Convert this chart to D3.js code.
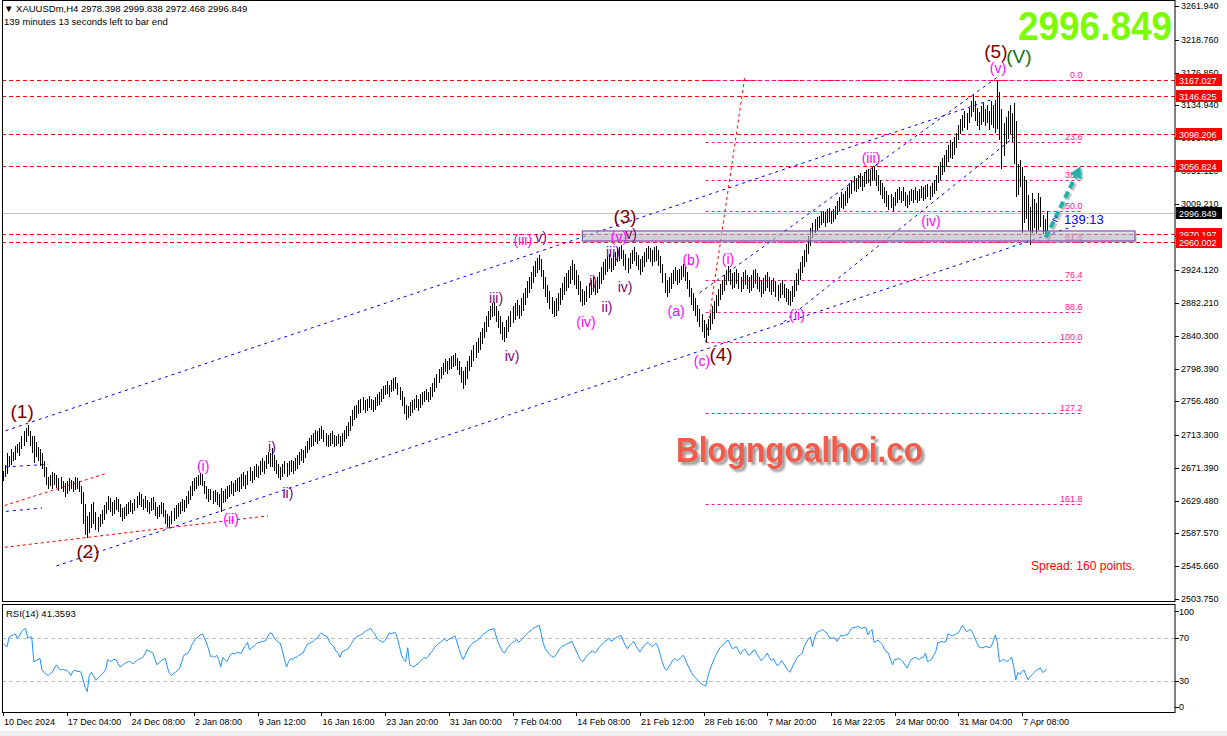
<!DOCTYPE html>
<html>
<head>
<meta charset="utf-8">
<script src="https://cdnjs.cloudflare.com/ajax/libs/d3/7.8.5/d3.min.js"></script>
<style>
  body { margin: 0; background: #fff; }
  svg { display: block; font-family: "Liberation Sans", Arial, sans-serif; }
</style>
</head>
<body>
<svg id="chart" width="1227" height="736"></svg>
<script>
// XAUUSDm H4 bars, 10 Dec 2024 .. 9 Apr 2025 (bar index 0..508)
const lows = [
  2655,2660,2664,2672,2675,2680,2682,2690,2686,2695,
  2700,2705,2712,2700,2690,2678,2685,2680,2674,2670,
  2660,2650,2645,2648,2645,2650,2646,2642,2645,2640,
  2634,2638,2642,2645,2640,2643,2645,2640,2625,2600,
  2586,2582,2588,2595,2600,2592,2590,2596,2600,2605,
  2612,2618,2615,2610,2612,2618,2615,2608,2604,2606,
  2610,2612,2615,2612,2616,2620,2624,2622,2618,2620,
  2615,2612,2616,2618,2610,2606,2608,2612,2608,2600,
  2596,2594,2600,2604,2606,2608,2612,2616,2615,2620,
  2625,2630,2636,2642,2645,2648,2650,2648,2638,2632,
  2628,2630,2625,2628,2624,2622,2615,2626,2628,2632,
  2634,2638,2635,2640,2642,2640,2645,2648,2644,2650,
  2655,2652,2656,2660,2658,2662,2666,2664,2670,2676,
  2672,2672,2668,2664,2658,2656,2660,2664,2660,2662,
  2666,2664,2668,2670,2675,2680,2678,2684,2690,2694,
  2698,2700,2705,2702,2706,2708,2704,2700,2698,2700,
  2702,2698,2700,2702,2698,2700,2705,2708,2712,2718,
  2725,2732,2735,2740,2742,2745,2742,2744,2748,2745,
  2743,2746,2750,2752,2756,2760,2764,2766,2762,2768,
  2770,2772,2765,2758,2750,2740,2732,2735,2738,2742,
  2745,2748,2744,2748,2752,2756,2758,2755,2758,2762,
  2768,2774,2780,2785,2790,2794,2792,2796,2798,2800,
  2802,2796,2790,2780,2772,2778,2785,2795,2800,2808,
  2812,2818,2822,2830,2838,2845,2852,2860,2864,2866,
  2858,2850,2842,2835,2832,2838,2845,2852,2856,2860,
  2866,2862,2866,2872,2880,2888,2895,2900,2908,2915,
  2920,2924,2915,2900,2890,2882,2875,2868,2864,2866,
  2872,2880,2886,2892,2898,2902,2906,2912,2905,2900,
  2892,2884,2878,2880,2884,2888,2892,2896,2892,2895,
  2900,2906,2912,2918,2922,2926,2922,2925,2930,2934,
  2936,2938,2930,2925,2920,2926,2932,2936,2930,2924,
  2918,2922,2928,2934,2938,2935,2930,2934,2936,2930,
  2920,2908,2895,2890,2895,2900,2906,2910,2905,2908,
  2912,2915,2910,2900,2890,2880,2872,2865,2858,2852,
  2845,2838,2832,2840,2848,2855,2862,2870,2878,2886,
  2892,2898,2905,2910,2905,2900,2902,2906,2900,2896,
  2900,2905,2900,2895,2898,2902,2906,2900,2896,2890,
  2894,2898,2902,2896,2892,2896,2890,2885,2888,2892,
  2888,2884,2880,2879,2884,2890,2898,2905,2912,2920,
  2928,2935,2945,2955,2965,2972,2975,2978,2982,2985,
  2980,2984,2986,2983,2986,2990,2995,3000,3004,3002,
  3006,3010,3016,3022,3026,3024,3028,3030,3026,3030,
  3034,3036,3032,3038,3040,3032,3026,3020,3015,3010,
  3005,3001,3004,3000,3006,3010,3014,3010,3012,3006,
  3004,3008,3012,3010,3014,3010,3012,3016,3012,3015,
  3018,3014,3018,3022,3026,3035,3040,3046,3050,3056,
  3062,3068,3066,3072,3080,3090,3098,3102,3106,3104,
  3112,3120,3126,3115,3108,3103,3110,3114,3108,3112,
  3104,3110,3106,3100,3105,3090,3054,3070,3085,3092,
  3098,3088,3060,3018,3020,3030,2972,2985,2990,2975,
  2956,2972,2978,2970,2975,2980,2970,2968,2972.47
];
const highs = [
  2668,2675,2690,2687,2695,2692,2700,2702,2705,2712,
  2718,2722,2726,2718,2712,2712,2705,2698,2695,2690,
  2680,2672,2660,2662,2666,2665,2662,2658,2660,2655,
  2652,2655,2658,2656,2655,2660,2658,2655,2648,2640,
  2625,2610,2615,2625,2628,2615,2608,2612,2618,2624,
  2628,2636,2633,2628,2630,2634,2632,2625,2620,2622,
  2625,2628,2630,2626,2632,2635,2640,2638,2632,2636,
  2630,2628,2633,2634,2628,2622,2624,2628,2626,2618,
  2612,2610,2616,2620,2624,2626,2628,2632,2630,2636,
  2642,2648,2654,2658,2660,2662,2665,2664,2655,2648,
  2644,2645,2642,2643,2640,2638,2646,2642,2645,2648,
  2650,2654,2652,2656,2658,2660,2664,2666,2662,2668,
  2672,2668,2674,2676,2674,2680,2684,2680,2688,2692,
  2690,2697,2688,2682,2676,2672,2676,2680,2678,2680,
  2682,2680,2684,2688,2692,2695,2694,2700,2706,2710,
  2714,2716,2720,2718,2722,2725,2720,2716,2714,2716,
  2718,2714,2712,2715,2712,2716,2720,2725,2730,2738,
  2745,2750,2752,2758,2760,2762,2758,2760,2763,2760,
  2758,2762,2766,2768,2772,2776,2778,2782,2778,2784,
  2786,2787,2780,2775,2770,2762,2752,2750,2755,2758,
  2760,2764,2760,2766,2768,2770,2772,2768,2775,2780,
  2786,2792,2798,2800,2806,2810,2808,2812,2814,2816,
  2818,2812,2808,2800,2795,2800,2808,2815,2822,2828,
  2832,2838,2845,2850,2858,2865,2872,2878,2882,2884,
  2878,2872,2865,2858,2852,2860,2866,2872,2878,2882,
  2886,2880,2888,2895,2902,2910,2915,2922,2930,2936,
  2940,2944,2938,2925,2915,2905,2898,2890,2885,2888,
  2895,2902,2908,2915,2920,2925,2930,2937,2932,2925,
  2918,2910,2900,2898,2904,2908,2912,2916,2910,2915,
  2922,2928,2934,2938,2942,2945,2940,2945,2948,2952,
  2954,2956,2950,2945,2940,2946,2950,2954,2948,2944,
  2938,2942,2948,2952,2955,2952,2950,2954,2955,2950,
  2942,2932,2920,2912,2915,2920,2924,2928,2925,2926,
  2930,2932,2928,2922,2912,2902,2895,2888,2880,2875,
  2868,2860,2855,2862,2870,2878,2885,2892,2900,2906,
  2912,2918,2924,2930,2926,2920,2922,2926,2920,2916,
  2922,2924,2918,2915,2918,2924,2926,2920,2916,2912,
  2914,2918,2922,2916,2912,2914,2910,2905,2908,2912,
  2906,2902,2900,2898,2904,2912,2920,2926,2934,2942,
  2950,2958,2968,2978,2985,2990,2992,2994,2998,3000,
  2998,3002,3004,3000,3002,3006,3012,3018,3024,3022,
  3026,3030,3036,3040,3044,3042,3046,3048,3044,3050,
  3052,3054,3052,3056,3058,3052,3046,3040,3035,3030,
  3025,3020,3022,3018,3024,3028,3030,3026,3030,3024,
  3020,3026,3028,3027,3030,3026,3028,3032,3030,3033,
  3034,3032,3036,3040,3046,3058,3062,3068,3072,3078,
  3084,3090,3088,3094,3100,3110,3118,3122,3128,3125,
  3132,3140,3148,3140,3132,3126,3134,3138,3130,3136,
  3128,3140,3136,3142,3167,3152,3130,3112,3120,3128,
  3136,3125,3138,3115,3060,3065,3056,3045,3040,3020,
  3005,3023,3015,3010,3023,3018,2995,2990,2999.84
];
const rsi = [
  65,63,62,71,72,73,74,70,72,76, 78,79,70,71,71,48,49,50,51,40,
  38,36,35,37,38,42,45,42,40,41, 40,40,38,35,39,40,39,39,38,31,
  24,20,35,38,35,31,32,34,36,38, 41,50,48,49,50,50,46,43,44,46,
  47,48,48,46,47,49,50,51,52,55, 59,58,57,56,50,45,47,49,50,51,
  43,37,35,37,38,40,42,48,54,55, 56,59,64,67,70,71,73,74,70,66,
  60,53,53,52,54,50,43,52,50,48, 52,55,56,55,57,56,56,60,63,66,
  59,61,62,64,66,66,67,67,68,72, 75,74,70,68,66,65,58,50,43,48,
  51,50,52,52,54,55,56,60,64,65, 66,67,69,70,73,75,73,72,71,66,
  64,62,58,56,52,57,58,59,60,63, 66,69,71,72,73,74,76,77,78,79,
  76,74,70,68,67,66,68,71,75,74, 75,75,70,62,54,50,48,61,45,44,
  43,45,46,48,50,52,51,53,56,58, 61,63,65,66,68,69,67,69,70,71,
  72,66,60,54,50,54,58,62,64,66, 67,68,70,72,74,75,77,78,78,79,
  72,66,62,58,56,59,62,64,66,67, 69,66,68,70,72,74,76,77,79,80,
  81,82,74,65,60,57,55,53,52,54, 57,60,62,63,64,65,66,67,62,58,
  54,50,48,50,53,55,57,58,56,58, 61,63,65,67,68,70,67,68,70,71,
  72,72,67,63,60,63,65,67,63,60, 57,60,63,65,66,64,62,64,65,61,
  54,47,42,40,43,46,49,51,49,50, 52,54,51,46,42,38,35,33,31,29,
  27,26,25,33,40,45,50,54,58,61, 63,65,67,68,64,60,61,62,58,55,
  58,60,57,54,55,58,59,55,52,49, 51,53,56,52,49,51,47,44,46,49,
  46,43,40,38,42,46,50,53,54,56, 62,66,69,71,62,70,75,76,77,78,
  76,75,71,70,70,70,67,70,73,72, 73,73,76,79,80,80,81,80,79,80,
  80,73,76,78,66,67,68,66,64,60, 57,56,50,45,50,50,51,50,48,45,
  42,46,50,51,52,51,50,52,52,56, 48,49,50,54,57,66,66,67,66,67,
  74,73,72,73,74,75,78,82,79,76, 77,78,75,70,66,62,61,61,62,62,
  61,62,67,73,66,48,49,50,49,48, 50,52,43,31,38,36,39,40,35,31,
  34,36,38,40,41,42,38,39,41.36
];

const timeBars = [0, 31, 62, 93, 124, 155, 186, 217, 248, 279, 310, 341, 372, 403, 434, 465, 496];
const timeLabels = ["10 Dec 2024", "17 Dec 04:00", "24 Dec 08:00", "2 Jan 08:00", "9 Jan 12:00",
  "16 Jan 16:00", "23 Jan 20:00", "31 Jan 00:00", "7 Feb 04:00", "14 Feb 08:00", "21 Feb 12:00",
  "28 Feb 16:00", "7 Mar 20:00", "16 Mar 22:05", "24 Mar 00:00", "31 Mar 04:00", "7 Apr 08:00"];
const priceTicks = ["3261.940", "3218.760", "3176.850", "3134.940", "3093.030", "3051.120", "3009.210",
  "2967.300", "2924.120", "2882.210", "2840.300", "2798.390", "2756.480", "2713.300", "2671.390",
  "2629.480", "2587.570", "2545.660", "2503.750"];
const rsiTicks = [100, 70, 30, 0];
const rsiLevels = [70, 30];

const levelPrices = [3167.027, 3146.625, 3098.206, 3056.824, 2970.197, 2960.002];
const fibLevels = [0, 23.6, 38.2, 50, 61.8, 76.4, 88.6, 100, 127.2, 161.8];
const fibHigh = 3167.027, fibLow = 2832.3, fibFrom = 342, fibTo = 526;

const lastPrice = 2996.849;
const ohlcLast = ["2978.398", "2999.838", "2972.468", "2996.849"];
const rsiLast = "41.3593";

// trendlines: [bar1, price1, bar2, price2]
const blueLines = [[-2, 2716, 481, 3142], [26, 2546, 522, 2981], [339, 2895, 484, 3171],
  [380, 2858, 493, 3096], [-2, 2672, 22, 2676], [-2, 2615, 19, 2620]];
const redLines = [[342, 2832, 361, 3170], [-2, 2621, 51, 2665], [-2, 2569, 129, 2610]];
const zone = [282, 2974.3, 551, 2961.5];
const arrow = [507.5, 2966, 524.5, 3057];

// wave labels: [text, bar, price]
const majorLabels = [["(1)", 9.3, 2744], ["(2)", 41.4, 2565], ["(3)", 302.8, 2993],
  ["(4)", 349.5, 2816], ["(5)", 483.3, 3204]];
const greenLabels = [["(V)", 494.5, 3197]];
const minorLabels = [["(i)", 97.4, 2674], ["(ii)", 111, 2606], ["(iii)", 253, 2963], ["(iv)", 283.8, 2858],
  ["(v)", 299.8, 2967], ["(a)", 327.6, 2872], ["(b)", 334.9, 2937], ["(c)", 340.2, 2808],
  ["(i)", 352.9, 2938], ["(ii)", 386.5, 2867], ["(iii)", 422.5, 3068], ["(iv)", 451.7, 2987],
  ["(v)", 484.3, 3183]];
const subLabels = [["i)", 130.9, 2698], ["ii)", 138.7, 2639], ["iii)", 240, 2889], ["iv)", 247.8, 2814],
  ["v)", 261.9, 2967], ["i)", 287.2, 2910], ["ii)", 294, 2877], ["iii)", 296.9, 2947],
  ["iv)", 302.8, 2903], ["v)", 305.7, 2970]];

const svg = d3.select("#chart");
const axisX = 1175;

const x = d3.scaleLinear().domain([0, 496]).range([3, 1022]);
const y = d3.scaleLinear().domain([2503.75, 3261.94]).range([599, 6]);
const ry = d3.scaleLinear().domain([0, 100]).range([713, 606]);

svg.append("rect").attr("width", 1227).attr("height", 736).attr("fill", "#fff");
svg.append("rect").attr("x", 0).attr("y", 731).attr("width", 1227).attr("height", 5).attr("fill", "#f0f0f0");

const defs = svg.append("defs");
defs.append("clipPath").attr("id", "clipMain")
  .append("rect").attr("x", 2).attr("y", 0).attr("width", axisX - 2).attr("height", 601);
defs.append("clipPath").attr("id", "clipRsi")
  .append("rect").attr("x", 2).attr("y", 604).attr("width", axisX - 2).attr("height", 108);
defs.append("filter").attr("id", "shadow").attr("x", "-5%").attr("y", "-20%")
  .attr("width", "115%").attr("height", "150%")
  .append("feDropShadow").attr("dx", 3).attr("dy", 3).attr("stdDeviation", 1.2)
  .attr("flood-color", "#777").attr("flood-opacity", 0.7);

const main = svg.append("g").attr("clip-path", "url(#clipMain)");

// current price line
main.append("line")
  .attr("x1", 2).attr("x2", axisX)
  .attr("y1", Math.round(y(lastPrice)) + 0.5).attr("y2", Math.round(y(lastPrice)) + 0.5)
  .attr("stroke", "#c0c0c0");

// horizontal levels
main.append("g").selectAll("line").data(levelPrices).join("line")
  .attr("x1", 2).attr("x2", axisX)
  .attr("y1", d => Math.round(y(d)) + 0.5).attr("y2", d => Math.round(y(d)) + 0.5)
  .attr("stroke", "#ff0000").attr("stroke-dasharray", "4,3");

// fibonacci
function fibPrice(l) { return fibHigh - l / 100 * (fibHigh - fibLow); }
const fib = main.append("g");
fib.selectAll("line").data(fibLevels).join("line")
  .attr("x1", x(fibFrom)).attr("x2", x(fibTo))
  .attr("y1", d => Math.round(y(fibPrice(d))) + 0.5).attr("y2", d => Math.round(y(fibPrice(d))) + 0.5)
  .attr("stroke", "#ff1493").attr("stroke-dasharray", "3,3");
fib.selectAll("text").data(fibLevels).join("text")
  .attr("x", x(fibTo) - 1).attr("y", d => y(fibPrice(d)) - 2)
  .attr("text-anchor", "end").attr("font-size", 9).attr("fill", "#ff1493")
  .text(d => d.toFixed(1));

function drawLines(data, color, dash) {
  main.append("g").selectAll("line").data(data).join("line")
    .attr("x1", d => x(d[0])).attr("y1", d => y(d[1]))
    .attr("x2", d => x(d[2])).attr("y2", d => y(d[3]))
    .attr("stroke", color).attr("stroke-dasharray", dash);
}
drawLines(blueLines, "#0000ff", "3,4");
drawLines(redLines, "#ff0000", "3,3");

// bars
main.append("g").attr("shape-rendering", "crispEdges")
  .selectAll("line").data(highs).join("line")
  .attr("x1", (d, i) => Math.round(x(i)) + 0.5).attr("x2", (d, i) => Math.round(x(i)) + 0.5)
  .attr("y1", d => y(d)).attr("y2", (d, i) => y(lows[i]))
  .attr("stroke", "#000");

// support zone
main.append("rect")
  .attr("x", x(zone[0]) + 2).attr("y", y(zone[1]) + 2)
  .attr("width", x(zone[2]) - x(zone[0])).attr("height", y(zone[3]) - y(zone[1]))
  .attr("fill", "#999").attr("opacity", 0.35);
main.append("rect")
  .attr("x", x(zone[0])).attr("y", y(zone[1]))
  .attr("width", x(zone[2]) - x(zone[0])).attr("height", y(zone[3]) - y(zone[1]))
  .attr("fill", "rgba(200,195,210,0.45)").attr("stroke", "#7030a0");

// wave labels
function drawLabels(data, color, size) {
  main.append("g").selectAll("text").data(data).join("text")
    .attr("x", d => x(d[1])).attr("y", d => y(d[2]))
    .attr("text-anchor", "middle").attr("dominant-baseline", "central")
    .attr("font-size", size).attr("fill", color)
    .text(d => d[0]);
}
drawLabels(subLabels, "#800080", 14);
drawLabels(minorLabels, "#ff00ff", 14);
drawLabels(majorLabels, "#800000", 19);
drawLabels(greenLabels, "#107010", 19);

// arrow
const ax1 = x(arrow[0]), ay1 = y(arrow[1]), ax2 = x(arrow[2]), ay2 = y(arrow[3]);
const ang = Math.atan2(ay2 - ay1, ax2 - ax1);
const bx = ax2 - 11 * Math.cos(ang), by = ay2 - 11 * Math.sin(ang);
function head(dx, dy) {
  const px = -Math.sin(ang), py = Math.cos(ang);
  return [[ax2 + dx, ay2 + dy], [bx + 6 * px + dx, by + 6 * py + dy], [bx - 6 * px + dx, by - 6 * py + dy]];
}
[[2, 2, "#9a9a9a", 0.6], [0, 0, "#20b2aa", 1]].forEach(s => {
  main.append("line")
    .attr("x1", ax1 + s[0]).attr("y1", ay1 + s[1]).attr("x2", bx + s[0]).attr("y2", by + s[1])
    .attr("stroke", s[2]).attr("stroke-width", 4).attr("stroke-dasharray", "7,4").attr("opacity", s[3]);
  main.append("polygon").attr("points", head(s[0], s[1]).join(" "))
    .attr("fill", s[2]).attr("opacity", s[3]);
});

// countdown near last bar
main.append("text").attr("x", 1052).attr("y", 223).attr("font-size", 10).attr("fill", "#0000ff").text("<");
main.append("text").attr("x", 1064).attr("y", 224).attr("font-size", 13).attr("fill", "#0000ff").text("139:13");

// watermark
main.append("text").attr("x", 676).attr("y", 462)
  .attr("font-size", 35).attr("font-weight", 900).attr("fill", "#f25a48")
  .attr("textLength", 247).attr("lengthAdjust", "spacingAndGlyphs")
  .attr("filter", "url(#shadow)").text("Blogngoalhoi.co");

main.append("text").attr("x", 1031).attr("y", 570).attr("font-size", 12).attr("fill", "#ff0000")
  .text("Spread: 160 points.");

main.append("text").attr("x", 1172).attr("y", 40).attr("text-anchor", "end")
  .attr("font-size", 40).attr("font-weight", "bold").attr("fill", "#7cfc00")
  .attr("textLength", 154).attr("lengthAdjust", "spacingAndGlyphs")
  .text(lastPrice.toFixed(3));

main.append("text").attr("x", 4).attr("y", 12).attr("font-size", 9.5)
  .text("\u25BC XAUUSDm,H4  " + ohlcLast.join(" "));
main.append("text").attr("x", 4).attr("y", 25).attr("font-size", 9.5)
  .text("139 minutes 13 seconds left to bar end");

// RSI panel
const sub = svg.append("g").attr("clip-path", "url(#clipRsi)");
sub.selectAll("line").data(rsiLevels).join("line")
  .attr("x1", 2).attr("x2", axisX)
  .attr("y1", d => Math.round(ry(d)) + 0.5).attr("y2", d => Math.round(ry(d)) + 0.5)
  .attr("stroke", "#c0c0c0").attr("stroke-dasharray", "4,3");
sub.append("path").datum(rsi)
  .attr("d", d3.line().x((d, i) => x(i)).y(d => ry(d)))
  .attr("fill", "none").attr("stroke", "#1e90ff");
sub.append("text").attr("x", 6).attr("y", 617).attr("font-size", 9.5).text("RSI(14) " + rsiLast);

// frames
svg.append("rect").attr("x", 2.5).attr("y", 0.5).attr("width", axisX - 2.5).attr("height", 601)
  .attr("fill", "none").attr("stroke", "#000");
svg.append("rect").attr("x", 2.5).attr("y", 604.5).attr("width", axisX - 2.5).attr("height", 108)
  .attr("fill", "none").attr("stroke", "#000");

// price axis
const pAxis = svg.append("g");
pAxis.selectAll("line").data(priceTicks).join("line")
  .attr("x1", axisX).attr("x2", axisX + 4)
  .attr("y1", d => Math.round(y(+d)) + 0.5).attr("y2", d => Math.round(y(+d)) + 0.5)
  .attr("stroke", "#000");
pAxis.selectAll("text").data(priceTicks).join("text")
  .attr("x", axisX + 6).attr("y", d => y(+d)).attr("dominant-baseline", "central")
  .attr("font-size", 9).text(d => d);

// level boxes on the axis
const tags = levelPrices.map(p => [p, "#ff0000"]).concat([[lastPrice, "#000"]]);
const tag = svg.append("g").selectAll("g").data(tags).join("g")
  .attr("transform", d => "translate(" + (axisX + 1) + "," + Math.round(y(d[0])) + ")");
tag.append("rect").attr("x", 0).attr("y", -6).attr("width", 46).attr("height", 12).attr("fill", d => d[1]);
tag.append("text").attr("x", 3).attr("y", 0.5).attr("dominant-baseline", "central")
  .attr("font-size", 9).attr("fill", "#fff").text(d => d[0].toFixed(3));

// rsi axis
const rAxis = svg.append("g");
rAxis.selectAll("line").data(rsiTicks).join("line")
  .attr("x1", axisX).attr("x2", axisX + 4)
  .attr("y1", d => Math.round(Math.min(Math.max(ry(d), 611), 707)) + 0.5)
  .attr("y2", d => Math.round(Math.min(Math.max(ry(d), 611), 707)) + 0.5)
  .attr("stroke", "#000");
rAxis.selectAll("text").data(rsiTicks).join("text")
  .attr("x", axisX + 4).attr("y", d => Math.min(Math.max(ry(d), 612), 707))
  .attr("dominant-baseline", "central").attr("font-size", 9).text(d => d);

// time axis
const tAxis = svg.append("g");
tAxis.selectAll("line").data(timeBars).join("line")
  .attr("x1", d => Math.round(x(d)) + 0.5).attr("x2", d => Math.round(x(d)) + 0.5)
  .attr("y1", 712).attr("y2", 716).attr("stroke", "#000");
tAxis.selectAll("text").data(timeBars).join("text")
  .attr("x", d => x(d) + 1).attr("y", 725).attr("font-size", 9)
  .text((d, i) => timeLabels[i]);
</script>
</body>
</html>
